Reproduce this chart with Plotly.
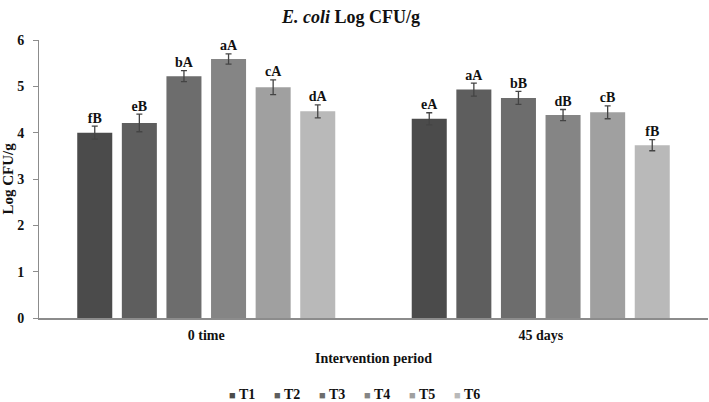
import plotly.graph_objects as go

periods = ["0 time", "45 days"]
treatments = ["T1", "T2", "T3", "T4", "T5", "T6"]
values = {
    "T1": [4.00, 4.30],
    "T2": [4.21, 4.93],
    "T3": [5.22, 4.75],
    "T4": [5.59, 4.38],
    "T5": [4.98, 4.44],
    "T6": [4.46, 3.73],
}
errors = {
    "T1": [0.14, 0.13],
    "T2": [0.19, 0.14],
    "T3": [0.12, 0.14],
    "T4": [0.11, 0.12],
    "T5": [0.16, 0.14],
    "T6": [0.14, 0.12],
}
letters = {
    "T1": ["fB", "eA"],
    "T2": ["eB", "aA"],
    "T3": ["bA", "bB"],
    "T4": ["aA", "dB"],
    "T5": ["cA", "cB"],
    "T6": ["dA", "fB"],
}
colors = ["#4b4b4b", "#5e5e5e", "#6d6d6d", "#858585", "#a0a0a0", "#b9b9b9"]

FONT = "Liberation Serif"
BOLD = dict(family=FONT, size=14, color="#111111", weight="bold")
fig = go.Figure()
for i, t in enumerate(treatments):
    fig.add_trace(go.Bar(
        name=t, x=periods, y=values[t], marker_color=colors[i],
        marker_line_width=0,
        error_y=dict(type="data", array=errors[t], color="#444444",
                     thickness=1.3, width=3),
        offsetgroup=t, showlegend=False,
    ))
for i, t in enumerate(treatments):
    fig.add_trace(go.Scatter(
        x=periods, y=[v + e for v, e in zip(values[t], errors[t])],
        mode="text", text=letters[t], textposition="top center",
        textfont=BOLD,
        showlegend=False, offsetgroup=t, hoverinfo="skip",
    ))

# legend row (square swatch + label), laid out like the original
legend_left = (227 - 39) / 669
legend_step = 45 / 669
for i, t in enumerate(treatments):
    fig.add_annotation(
        xref="paper", yref="paper",
        x=legend_left + i * legend_step, y=-0.275,
        xanchor="left", yanchor="middle", showarrow=False,
        text=f"<span style='color:{colors[i]};font-size:11px'>■</span> {t}",
        font=BOLD,
    )

fig.update_layout(
    width=709, height=402,
    margin=dict(l=39, r=1, t=40, b=84),
    plot_bgcolor="white", paper_bgcolor="white",
    barmode="group", bargap=0.2, bargroupgap=0.215,
    scattermode="group", scattergap=0.2,
    font=dict(family=FONT, size=13, color="#111111"),
    title=dict(text="<i>E. coli</i> Log CFU/g", x=351/709, xanchor="center",
               xref="container", y=1 - 17/402, yanchor="middle",
               font=dict(family=FONT, size=18, weight="bold", color="#111111")),
    showlegend=False,
)
fig.update_xaxes(
    showline=True, linecolor="#8c8c8c", linewidth=1.5, ticks="",
    tickfont=BOLD, ticklabelstandoff=3,
    title=dict(text="Intervention period", font=BOLD, standoff=12),
)
fig.update_yaxes(
    range=[0, 6], dtick=1, showgrid=False, zeroline=False,
    showline=True, linecolor="#8c8c8c", linewidth=1,
    ticks="outside", ticklen=5, tickcolor="#8c8c8c",
    tickfont=BOLD, ticklabelstandoff=6,
    title=dict(text="Log CFU/g", font=dict(family=FONT, size=15, color="#111111",
                                            weight="bold"), standoff=4),
)
fig.write_html("out.html")
